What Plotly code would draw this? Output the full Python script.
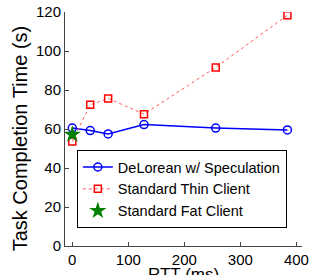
import plotly.graph_objects as go

rtt = [0, 32, 64, 128, 256, 384]
delorean = [60.5, 59.2, 57.5, 62.3, 60.5, 59.5]
thin = [53.6, 72.4, 75.7, 67.6, 91.6, 118.3]
fat_x = [0]
fat_y = [57.2]

fig = go.Figure()
fig.add_trace(go.Scatter(x=rtt, y=delorean, mode="lines+markers", name="DeLorean w/ Speculation",
                         line=dict(color="#0000ff", width=1.5),
                         marker=dict(symbol="circle-open", size=8, color="#0000ff", line=dict(width=1.5))))
fig.add_trace(go.Scatter(x=rtt, y=thin, mode="lines+markers", name="Standard Thin Client",
                         line=dict(color="rgb(255,90,90)", width=1, dash="dot"),
                         marker=dict(symbol="square-open", size=7, color="#ff0000", line=dict(width=1.5))))
fig.add_trace(go.Scatter(x=fat_x, y=fat_y, mode="markers", name="Standard Fat Client",
                         marker=dict(symbol="star", size=13, color="#008000")))

font = "Liberation Sans, Arial, sans-serif"
fig.update_layout(
    width=313, height=275,
    margin=dict(l=65, r=11, t=12, b=29),
    plot_bgcolor="white", paper_bgcolor="white",
    font=dict(family=font, size=15, color="black"),
    showlegend=True,
    legend=dict(x=0.05, y=0.41, xanchor="left", yanchor="top",
                bgcolor="white", bordercolor="black", borderwidth=1,
                font=dict(size=14.5), tracegroupgap=0, itemwidth=30),
    xaxis=dict(range=[-13, 410], tickvals=[0, 100, 200, 300, 400], ticks="inside", ticklen=4,
               showline=True, linecolor="#444", showgrid=False, zeroline=False, automargin=False),
    yaxis=dict(range=[0, 120], tickvals=[0, 20, 40, 60, 80, 100, 120], ticks="inside", ticklen=4,
               showline=True, linecolor="#444", showgrid=False, zeroline=False, automargin=False),
    annotations=[
        dict(text="Task Completion Time (s)", xref="paper", yref="paper", x=0, y=0.46,
             xanchor="center", yanchor="middle", xshift=-45, textangle=-90, showarrow=False,
             font=dict(size=20)),
        dict(text="RTT (ms)", xref="paper", yref="paper", x=0.502, y=0,
             xanchor="center", yanchor="top", yshift=-17, showarrow=False,
             font=dict(size=17)),
    ],
)
fig.write_html("out.html", config={"displayModeBar": False},
               post_script="document.body.style.margin='0px';")
